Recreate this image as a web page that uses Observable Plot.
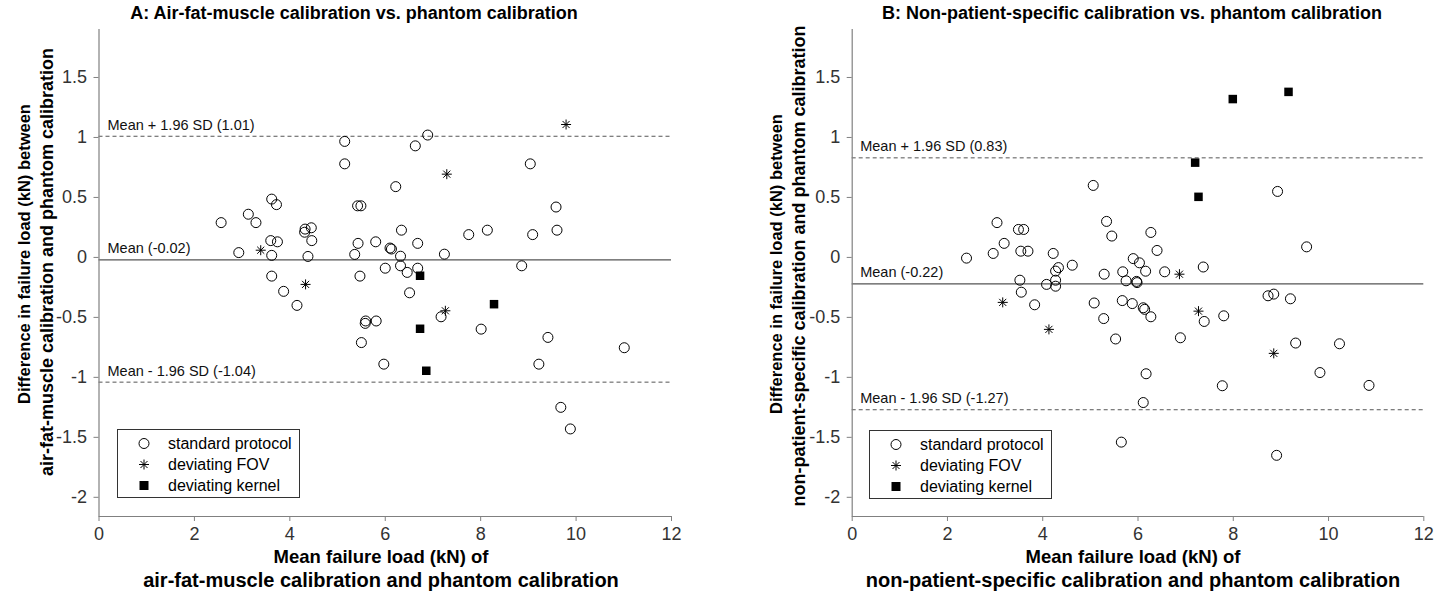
<!DOCTYPE html>
<html><head><meta charset="utf-8">
<script src="https://cdn.jsdelivr.net/npm/d3@7"></script>
<script src="https://cdn.jsdelivr.net/npm/@observablehq/plot@0.6"></script>
<style>
body{margin:0;background:#fff;font-family:"Liberation Sans",Arial,sans-serif;}
#wrap{position:relative;width:1447px;height:593px;overflow:hidden;background:#fff}
.abs{position:absolute;white-space:nowrap;color:#000;font-weight:bold}
.t{font-size:18px;transform:translate(-50%,-50%);}
.xl{text-align:center;transform:translate(-50%,-50%);}
.yl{text-align:center;transform:translate(-50%,-50%) rotate(-90deg);}
.leg{position:absolute;border:1px solid #333;background:#fff;box-sizing:border-box;font-size:16px;color:#000}
.leg .row{position:absolute;left:0;height:21px;line-height:21px;white-space:nowrap}
.leg svg{position:absolute;top:0}
</style></head>
<body><div id="wrap"></div>
<script>
// ---------- data ----------
const xTicks = [0, 2, 4, 6, 8, 10, 12];
const yTicks = [-2, -1.5, -1, -0.5, 0, 0.5, 1, 1.5];
const xDomain = [0, 12];
const yDomain = [-2.16, 1.9];

const groupNames = ["standard protocol", "deviating FOV", "deviating kernel"];

// Panel A
const aStdX = [2.56,2.93,3.13,3.29,3.62,3.72,3.60,3.74,3.62,3.62,3.87,4.15,4.32,4.45,4.46,4.38,5.15,5.15,5.42,5.49,5.43,5.36,5.47,5.59,5.58,5.81,5.50,5.97,5.80,6.00,6.10,6.13,6.22,6.34,6.32,6.32,6.46,6.51,6.68,6.68,6.63,6.89,7.24,7.17,7.75,8.14,8.01,8.86,9.04,9.09,9.58,9.60,9.41,9.22,9.68,9.88,11.01,4.31];
const aStdY = [0.29,0.04,0.36,0.29,0.486,0.44,0.14,0.13,0.017,-0.156,-0.283,-0.40,0.236,0.247,0.14,0.008,0.967,0.78,0.43,0.43,0.117,0.025,-0.156,-0.53,-0.55,-0.53,-0.71,-0.89,0.13,-0.09,0.078,0.07,0.59,0.227,0.01,-0.07,-0.125,-0.295,0.117,-0.09,0.93,1.02,0.027,-0.495,0.19,0.227,-0.598,-0.07,0.78,0.19,0.42,0.227,-0.667,-0.89,-1.25,-1.43,-0.753,0.21];
const aFovX = [3.39,4.33,7.29,7.26,9.79];
const aFovY = [0.06,-0.225,0.694,-0.445,1.108];
const aKerX = [6.73,6.73,6.86,8.28];
const aKerY = [-0.153,-0.595,-0.945,-0.39];
const aLimitValues = [1.01, -0.02, -1.04];
const aLimitLabels = ["Mean + 1.96 SD (1.01)", "Mean (-0.02)", "Mean - 1.96 SD (-1.04)"];

// Panel B
const bStdX = [2.40,2.96,3.04,3.19,3.49,3.60,3.54,3.69,3.52,3.55,3.83,4.08,4.22,4.27,4.27,4.27,4.33,4.62,5.06,5.34,5.45,5.29,5.08,5.28,5.53,5.65,5.68,5.75,5.67,5.88,5.90,6.03,5.97,5.98,6.16,6.11,6.14,6.27,6.27,6.40,6.56,7.37,7.39,7.80,6.89,6.17,6.11,7.77,8.73,8.85,9.20,9.31,10.23,9.82,10.85,8.91,8.93,9.54];
const bStdY = [-0.006,0.033,0.29,0.117,0.233,0.233,0.052,0.052,-0.19,-0.29,-0.395,-0.225,0.033,-0.19,-0.24,-0.114,-0.085,-0.065,0.60,0.30,0.178,-0.14,-0.38,-0.51,-0.68,-1.54,-0.12,-0.195,-0.36,-0.385,-0.01,-0.045,-0.20,-0.21,-0.115,-0.42,-0.433,-0.495,0.208,0.058,-0.12,-0.08,-0.534,-0.487,-0.67,-0.97,-1.21,-1.07,-0.32,-0.306,-0.345,-0.714,-0.72,-0.96,-1.067,-1.65,0.55,0.088];
const bFovX = [3.16,4.13,6.87,7.27,8.85];
const bFovY = [-0.375,-0.60,-0.14,-0.448,-0.80];
const bKerX = [9.16,7.99,7.20,7.27];
const bKerY = [1.38,1.32,0.79,0.505];
const bLimitValues = [0.83, -0.22, -1.27];
const bLimitLabels = ["Mean + 1.96 SD (0.83)", "Mean (-0.22)", "Mean - 1.96 SD (-1.27)"];

const titles = ["A: Air-fat-muscle calibration vs. phantom calibration", "B: Non-patient-specific calibration vs. phantom calibration"];
const xLabels = [["Mean failure load (kN) of", "air-fat-muscle calibration and phantom calibration"],
                 ["Mean failure load (kN) of", "non-patient-specific calibration and phantom calibration"]];
const yLabels = [["Difference in failure load (kN) between", "air-fat-muscle calibration and phantom calibration"],
                 ["Difference in failure load (kN) between", "non-patient-specific calibration and phantom calibration"]];

// ---------- helpers ----------
const zip = (xs, ys) => xs.map((x, i) => ({x, y: ys[i]}));
const star8 = {
  draw(ctx, size) {
    const r = Math.sqrt(size / Math.PI), d = r * Math.SQRT1_2;
    ctx.moveTo(-r, 0); ctx.lineTo(r, 0);
    ctx.moveTo(0, -r); ctx.lineTo(0, r);
    ctx.moveTo(-d, -d); ctx.lineTo(d, d);
    ctx.moveTo(-d, d); ctx.lineTo(d, -d);
  }
};
const AXIS = "#808080", LABEL = "#333333";

function panel(cfg) {
  const limits = cfg.limitValues.map((v, i) => ({v, label: cfg.limitLabels[i], mean: i === 1}));
  return Plot.plot({
    width: cfg.width, height: 593,
    marginLeft: cfg.ml, marginRight: cfg.mr, marginTop: 29, marginBottom: 77,
    x: {domain: xDomain},
    y: {domain: yDomain},
    style: {fontFamily: "'Liberation Sans', Arial, sans-serif", background: "white", overflow: "visible"},
    marks: [
      Plot.ruleY(limits.filter(d => !d.mean), {y: "v", stroke: "#555", strokeWidth: 1, strokeDasharray: "4,3"}),
      Plot.ruleY(limits.filter(d => d.mean), {y: "v", stroke: "#555", strokeWidth: 1.2}),
      Plot.text(limits, {y: "v", text: "label", frameAnchor: "left", textAnchor: "start", dx: cfg.labelDx, dy: -11, fontSize: 14.5, fill: "#111"}),
      Plot.ruleX([xDomain[0]], {stroke: AXIS, strokeWidth: 1.2}),
      Plot.ruleY([yDomain[0]], {stroke: AXIS, strokeWidth: 1.2}),
      Plot.axisX({ticks: xTicks, tickFormat: d => String(d), tickSize: 5, tickPadding: 6, fontSize: 18, stroke: AXIS, fill: LABEL, label: null}),
      Plot.axisY({ticks: yTicks, tickFormat: d => String(d), tickSize: 5, tickPadding: 7, fontSize: 18, stroke: AXIS, fill: LABEL, label: null}),
      Plot.dot(zip(cfg.stdX, cfg.stdY), {x: "x", y: "y", r: 5, stroke: "black", strokeWidth: 1, fill: "none"}),
      Plot.dot(zip(cfg.fovX, cfg.fovY), {x: "x", y: "y", r: 5, symbol: star8, stroke: "black", strokeWidth: 1, fill: "none"}),
      Plot.dot(zip(cfg.kerX, cfg.kerY), {x: "x", y: "y", r: 4.8, symbol: "square", fill: "black", stroke: "none"})
    ]
  });
}

const wrap = document.getElementById("wrap");
const pA = panel({width: 723, ml: 98.5, mr: 52, labelDx: 8.5, limitValues: aLimitValues, limitLabels: aLimitLabels,
  stdX: aStdX, stdY: aStdY, fovX: aFovX, fovY: aFovY, kerX: aKerX, kerY: aKerY});
pA.style.position = "absolute"; pA.style.left = "0px"; pA.style.top = "0px";
wrap.appendChild(pA);
const pB = panel({width: 724, ml: 128.7, mr: 23.7, labelDx: 8, limitValues: bLimitValues, limitLabels: bLimitLabels,
  stdX: bStdX, stdY: bStdY, fovX: bFovX, fovY: bFovY, kerX: bKerX, kerY: bKerY});
pB.style.position = "absolute"; pB.style.left = "723px"; pB.style.top = "0px";
wrap.appendChild(pB);

function addDiv(cls, text, x, y, size) {
  const d = document.createElement("div");
  d.className = "abs " + cls;
  d.textContent = text;
  d.style.left = x + "px"; d.style.top = y + "px";
  if (size) d.style.fontSize = size + "px";
  wrap.appendChild(d);
}
const layout = [
  {title: [354, 13], xl1: [381, 557], xl2: [381, 580], yl1: [24, 254], yl2: [47, 262], leg: [117, 429]},
  {title: [1132, 13], xl1: [1133, 557], xl2: [1133, 580], yl1: [776, 264], yl2: [799, 266], leg: [869, 430]}
];
layout.forEach((L, i) => {
  addDiv("t", titles[i], L.title[0], L.title[1]);
  addDiv("xl", xLabels[i][0], L.xl1[0], L.xl1[1], 18.5);
  addDiv("xl", xLabels[i][1], L.xl2[0], L.xl2[1], 20);
  addDiv("yl", yLabels[i][0], L.yl1[0], L.yl1[1], 16.5);
  addDiv("yl", yLabels[i][1], L.yl2[0], L.yl2[1], 18);
  // legend
  const lg = document.createElement("div");
  lg.className = "leg";
  lg.style.left = L.leg[0] + "px"; lg.style.top = L.leg[1] + "px";
  lg.style.width = "183px"; lg.style.height = "69px";
  const icons = [
    '<circle cx="10" cy="10.5" r="5" fill="none" stroke="black"/>',
    '<path d="M5,10.5H15M10,5.5V15.5M6.5,7L13.5,14M6.5,14L13.5,7" stroke="black" fill="none"/>',
    '<rect x="5.5" y="6" width="9" height="9" fill="black"/>'
  ];
  groupNames.forEach((g, k) => {
    const r = document.createElement("div");
    r.className = "row";
    r.style.top = (3 + k * 21) + "px";
    r.innerHTML = '<svg width="20" height="21" style="left:16px">' + icons[k] + '</svg><span style="position:absolute;left:50px">' + g + '</span>';
    lg.appendChild(r);
  });
  wrap.appendChild(lg);
});
</script>
</body></html>
